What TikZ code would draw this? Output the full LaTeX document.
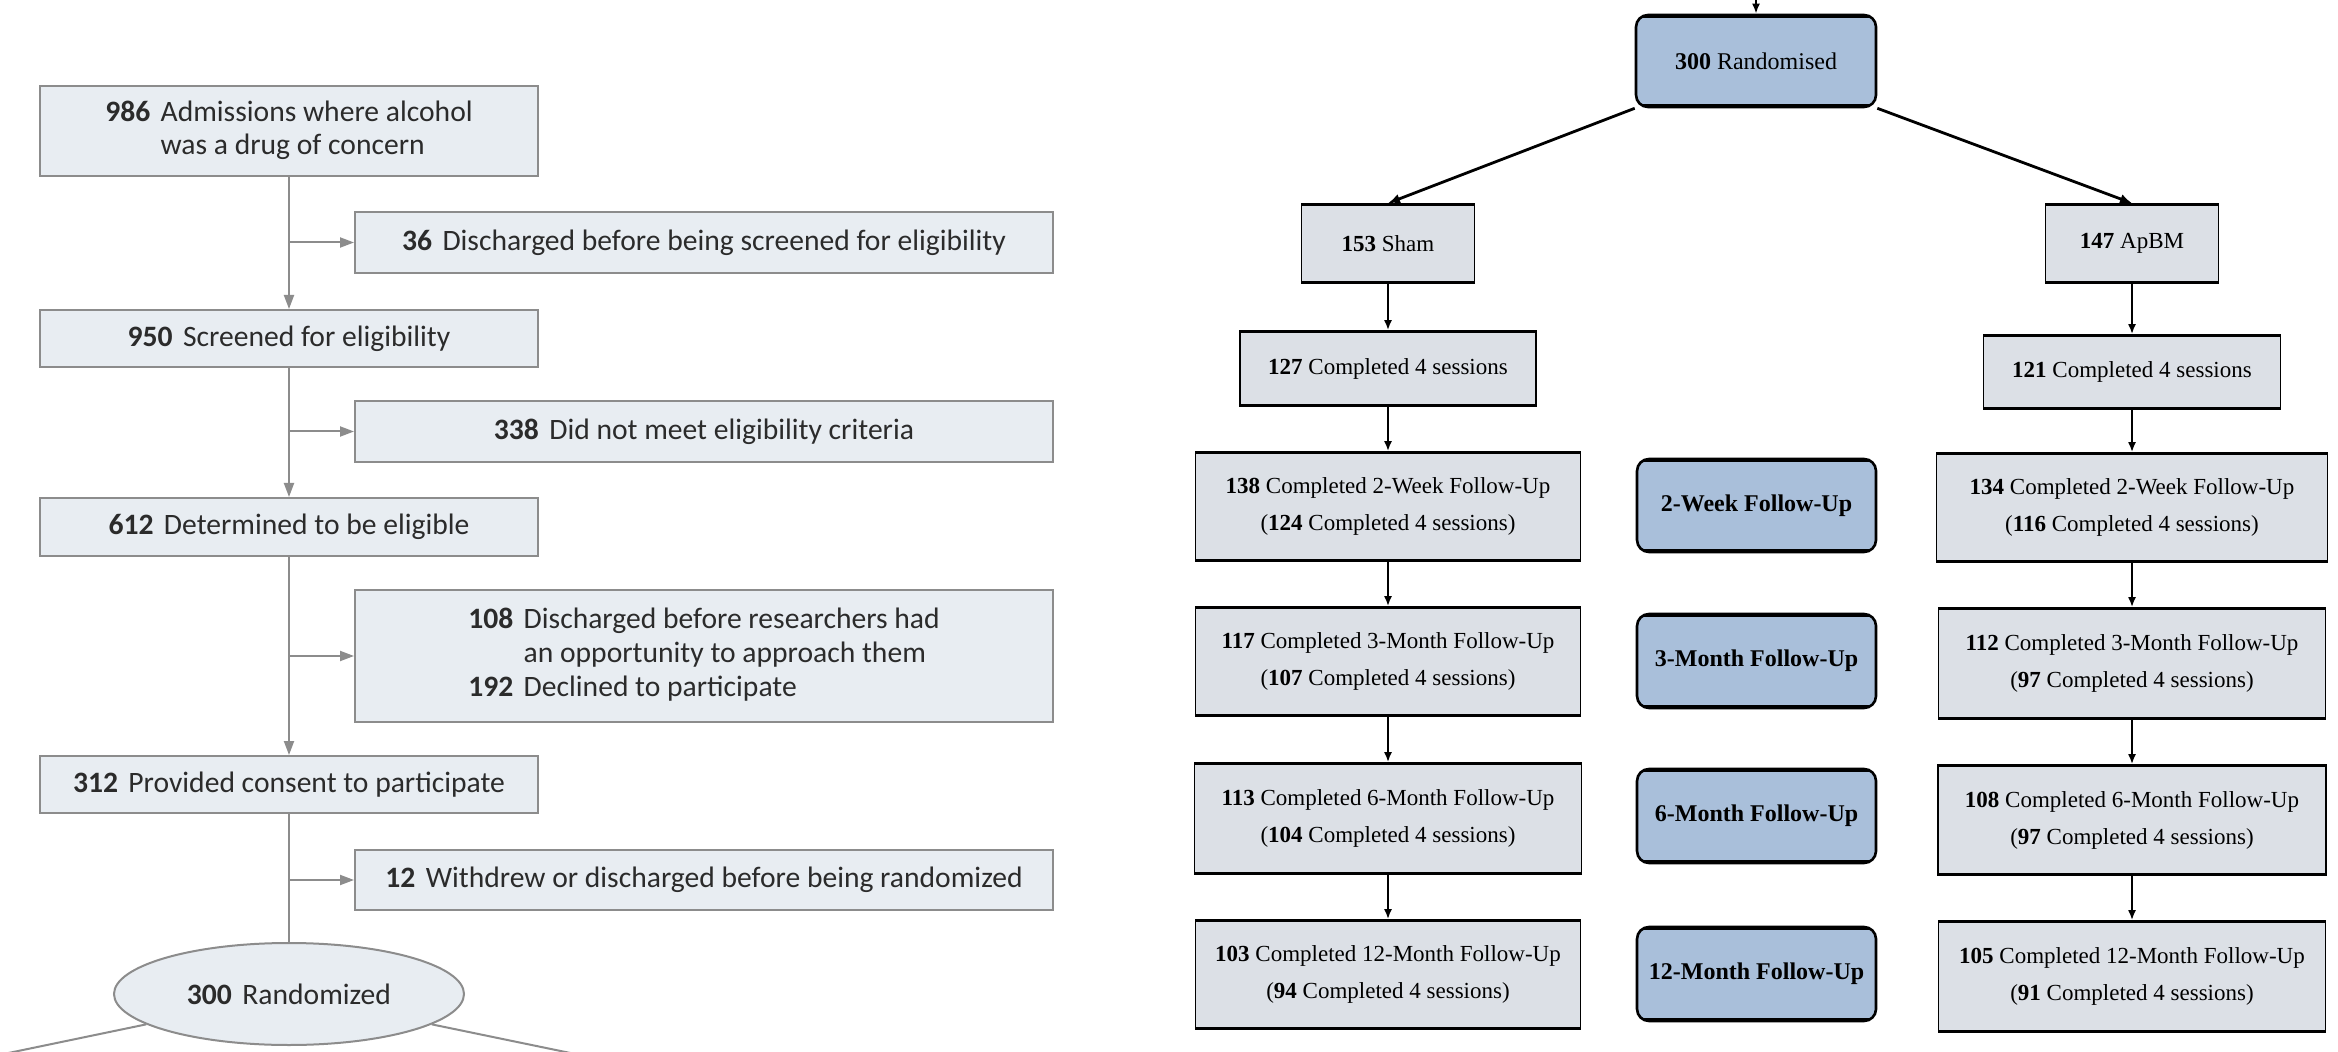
\documentclass[tikz,border=0pt]{standalone}
\usepackage{fontspec}
\setmainfont{Liberation Serif}
\newfontfamily\jamafont{Carlito}
\usetikzlibrary{arrows.meta,shapes.geometric}
\definecolor{lfill}{HTML}{E8EDF2}
\definecolor{ldraw}{HTML}{8C8C8C}
\definecolor{ltext}{HTML}{2B2B2B}
\definecolor{rfill}{HTML}{DCE0E6}
\definecolor{bfill}{HTML}{A9BFDA}
\begin{document}
\begin{tikzpicture}[x=0.5pt,y=-0.5pt,
  lbox/.style={draw=ldraw, fill=lfill, line width=1pt, inner sep=0pt, text=ltext, align=center,
    font=\jamafont\fontsize{14.8}{17}\selectfont},
  lline/.style={draw=ldraw, line width=1pt},
  larrow/.style={lline, -{Triangle[length=7pt,width=5pt]}},
  rbox/.style={draw=black, fill=rfill, line width=0.8pt, inner sep=0pt, align=center,
    font=\fontsize{11.5}{18.5}\selectfont,
    path picture={\draw[line width=2.4pt] (path picture bounding box.north west) -- (path picture bounding box.north east)
      (path picture bounding box.south west) -- (path picture bounding box.south east);}},
  bbox/.style={draw=black, fill=bfill, line width=1.3pt, rounded corners=6pt, inner sep=0pt, align=center,
    font=\fontsize{12}{14}\selectfont,
    path picture={\draw[line width=3pt] (path picture bounding box.north west) -- (path picture bounding box.north east)
      (path picture bounding box.south west) -- (path picture bounding box.south east);}},
  rarrow/.style={draw=black, line width=1pt, -{Latex[length=5pt,width=4pt]}},
  darrow/.style={draw=black, line width=1.4pt, -{Latex[length=6pt,width=5pt]}},
  ]
\clip (0,0) rectangle (2338,1052);
\fill[white] (0,0) rectangle (2338,1052);

% ---------- left panel ----------
\node[lbox, minimum width=249pt, minimum height=45pt] (b986) at (289,131)
  {\raisebox{-2pt}{\begin{tabular}{@{}r@{\hspace{0.35em}}l@{}}\textbf{986} & Admissions where alcohol\\[-0.5pt] & was a drug of concern\end{tabular}}};
\node[lbox, minimum width=349pt, minimum height=30.5pt] (b36) at (704,242.5)
  {\textbf{36}\hspace{0.35em}Discharged before being screened for eligibility};
\node[lbox, minimum width=249pt, minimum height=28.5pt] (b950) at (289,338.5)
  {\textbf{950}\hspace{0.35em}Screened for eligibility};
\node[lbox, minimum width=349pt, minimum height=30.5pt] (b338) at (704,431.5)
  {\textbf{338}\hspace{0.35em}Did not meet eligibility criteria};
\node[lbox, minimum width=249pt, minimum height=29pt] (b612) at (289,527)
  {\textbf{612}\hspace{0.35em}Determined to be eligible};
\node[lbox, minimum width=349pt, minimum height=66pt] (b108) at (704,656)
  {\begin{tabular}{@{}r@{\hspace{0.35em}}l@{}}\textbf{108} & Discharged before researchers had\\ & an opportunity to approach them\\ \textbf{192} & Declined to participate\end{tabular}};
\node[lbox, minimum width=249pt, minimum height=28.5pt] (b312) at (289,784.5)
  {\textbf{312}\hspace{0.35em}Provided consent to participate};
\node[lbox, minimum width=349pt, minimum height=30pt] (b12) at (704,880)
  {\textbf{12}\hspace{0.35em}Withdrew or discharged before being randomized};
\node[lbox, ellipse, minimum width=175pt, minimum height=51pt] (ell) at (289,994)
  {\textbf{300}\hspace{0.35em}Randomized};
\coordinate (ellL) at (-30,1061);
\coordinate (ellR) at (609,1061);

\draw[larrow] (b986) -- (b950);
\draw[larrow] (b950) -- (b612);
\draw[larrow] (b612) -- (b312);
\draw[lline] (b312) -- (ell);
\draw[larrow] (b986.south |- b36.west) -- (b36.west);
\draw[larrow] (b950.south |- b338.west) -- (b338.west);
\draw[larrow] (b612.south |- b108.west) -- (b108.west);
\draw[larrow] (b312.south |- b12.west) -- (b12.west);
\draw[lline] (ell.192) -- (ellL);
\draw[lline] (ell.348) -- (ellR);

% ---------- right panel ----------
\node[bbox, minimum width=120pt, minimum height=46pt] (r300) at (1756,61) {\textbf{300} Randomised};
\coordinate (topin) at (1756,-12);
\node[rbox, minimum width=86.5pt, minimum height=39.5pt] (sham) at (1388,243.5) {\textbf{153} Sham};
\node[rbox, minimum width=86.5pt, minimum height=39.5pt] (apbm) at (2132,243.5) {\textbf{147} ApBM};
\node[rbox, minimum width=148pt, minimum height=37.5pt] (c127) at (1388,368.5) {\textbf{127} Completed 4 sessions};
\node[rbox, minimum width=148.5pt, minimum height=37pt] (c121) at (2132,372) {\textbf{121} Completed 4 sessions};

\node[rbox, minimum width=192.5pt, minimum height=54.5pt] (c138) at (1388,506.5)
  {\textbf{138} Completed 2-Week Follow-Up\\(\textbf{124} Completed 4 sessions)};
\node[bbox, minimum width=119.5pt, minimum height=46.5pt] (fu2) at (1756.5,505.5) {\textbf{2-Week Follow-Up}};
\node[rbox, minimum width=195.5pt, minimum height=54.5pt] (c134) at (2132,507.5)
  {\textbf{134} Completed 2-Week Follow-Up\\(\textbf{116} Completed 4 sessions)};

\node[rbox, minimum width=192.5pt, minimum height=54.5pt] (c117) at (1388,661.5)
  {\textbf{117} Completed 3-Month Follow-Up\\(\textbf{107} Completed 4 sessions)};
\node[bbox, minimum width=119.5pt, minimum height=47pt] (fu3) at (1756.5,661) {\textbf{3-Month Follow-Up}};
\node[rbox, minimum width=193.5pt, minimum height=55.5pt] (c112) at (2132,663.5)
  {\textbf{112} Completed 3-Month Follow-Up\\(\textbf{97} Completed 4 sessions)};

\node[rbox, minimum width=193.5pt, minimum height=55.5pt] (c113) at (1388,818.5)
  {\textbf{113} Completed 6-Month Follow-Up\\(\textbf{104} Completed 4 sessions)};
\node[bbox, minimum width=119.5pt, minimum height=47pt] (fu6) at (1756.5,816) {\textbf{6-Month Follow-Up}};
\node[rbox, minimum width=194pt, minimum height=55pt] (c108) at (2132,820)
  {\textbf{108} Completed 6-Month Follow-Up\\(\textbf{97} Completed 4 sessions)};

\node[rbox, minimum width=192.5pt, minimum height=54.5pt] (c103) at (1388,974.5)
  {\textbf{103} Completed 12-Month Follow-Up\\(\textbf{94} Completed 4 sessions)};
\node[bbox, minimum width=119.5pt, minimum height=47pt] (fu12) at (1756.5,974) {\textbf{12-Month Follow-Up}};
\node[rbox, minimum width=193.5pt, minimum height=55.5pt] (c105) at (2132,976.5)
  {\textbf{105} Completed 12-Month Follow-Up\\(\textbf{91} Completed 4 sessions)};

\draw[rarrow] (topin) -- (r300);
\draw[darrow] (r300.south west) -- (sham.north);
\draw[darrow] (r300.south east) -- (apbm.north);
\draw[rarrow] (sham) -- (c127);
\draw[rarrow] (c127) -- (c138);
\draw[rarrow] (c138) -- (c117);
\draw[rarrow] (c117) -- (c113);
\draw[rarrow] (c113) -- (c103);
\draw[rarrow] (apbm) -- (c121);
\draw[rarrow] (c121) -- (c134);
\draw[rarrow] (c134) -- (c112);
\draw[rarrow] (c112) -- (c108);
\draw[rarrow] (c108) -- (c105);
\end{tikzpicture}
\end{document}
